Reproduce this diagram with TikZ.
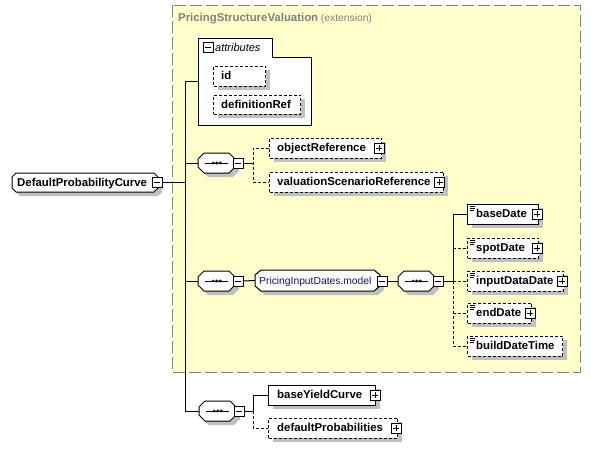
\documentclass[tikz,border=0pt]{standalone}
\usepackage{fontspec}
\setmainfont{Liberation Sans}
\usetikzlibrary{shadows}
\definecolor{bgyellow}{RGB}{255,255,204}
\definecolor{shgray}{RGB}{192,192,192}
\definecolor{titlegray}{RGB}{128,128,128}
\definecolor{modelblue}{RGB}{16,16,128}
\definecolor{framegray}{RGB}{128,128,128}

\tikzset{
  shad/.style={drop shadow={shadow xshift=4pt, shadow yshift=-4pt, fill=shgray, opacity=1}},
  ebox/.style={draw, fill=white, line width=1pt, minimum height=20pt, inner sep=0pt, anchor=west, shad},
  optb/.style={dash pattern=on 3pt off 2pt},
  lbl/.style={anchor=west, inner sep=0pt, text height=8pt, text depth=1pt, font=\fontsize{11.4}{13}\selectfont\bfseries},
  conn/.style={line width=1pt},
  optc/.style={line width=1pt, dash pattern=on 3pt off 2pt},
  shapebox/.style={inner sep=0pt},
  octo/.style={draw, fill=white, line width=1pt, shad},
  pmbox/.style={draw, fill=white, line width=0.9pt, minimum size=10pt, inner sep=0pt, outer sep=0pt},
  plusbox/.style={pmbox, path picture={\draw[line width=0.9pt]
      ([xshift=-3pt]path picture bounding box.center) -- ([xshift=3pt]path picture bounding box.center)
      ([yshift=-3pt]path picture bounding box.center) -- ([yshift=3pt]path picture bounding box.center);}},
  minusbox/.style={pmbox, path picture={\draw[line width=0.9pt]
      ([xshift=-3pt]path picture bounding box.center) -- ([xshift=3pt]path picture bounding box.center);}},
  docicon/.style={line width=0.7pt}
}

\newcommand\seqshape[3]{%
  \draw[octo] (#2+6,#3-10) -- (#2+31,#3-10) -- (#2+37,#3-4) -- (#2+37,#3+4) -- (#2+31,#3+10) -- (#2+6,#3+10) -- (#2,#3+4) -- (#2,#3-4) -- cycle;
  \node[shapebox, minimum width=37pt, minimum height=20pt, anchor=west] (#1) at (#2,#3) {};
  \draw[line width=1pt] (#2+7,#3) -- (#2+30,#3);
  \foreach \d in {-3.6,0,3.6} \fill ([xshift=\d pt]#1.center) circle (1.6pt);
  \node[minusbox] (#1M) at (#2+40,#3) {};
}
\newcommand\docmark[1]{%
  \draw[docicon] ([shift={(2.5,2.5)}]#1.north west) -- ++(5,0)
                 ([shift={(2.5,4.6)}]#1.north west) -- ++(5,0)
                 ([shift={(2.5,6.7)}]#1.north west) -- ++(4,0);
}

\begin{document}
\begin{tikzpicture}[x=1pt,y=-1pt]
\useasboundingbox (0,0) rectangle (591,448);
\fill[white] (0,0) rectangle (591,448);

% extension frame
\draw[fill=bgyellow, draw=framegray, line width=1pt, dash pattern=on 12pt off 4pt] (172,5) rectangle (580,372);
\node[anchor=west, inner sep=0pt, text=titlegray] (title) at (178,19)
  {{\fontsize{11.4}{13}\selectfont\bfseries PricingStructureValuation} {\fontsize{10.3}{12}\selectfont(extension)}};

% root element
\draw[octo] (16,173) -- (154,173) -- (158,177) -- (158,188) -- (154,192) -- (16,192) -- (12,188) -- (12,177) -- cycle;
\node[shapebox, minimum width=146pt, minimum height=19pt] (dpc) at (85,182.5) {};
\node[lbl] (dpcT) at (17,182.5) {DefaultProbabilityCurve};
\node[minusbox] (dpcM) at (157,182) {};

% attributes
\draw[fill=white, line width=1pt] (198,38) -- (272,38) -- (272,57) -- (311,57) -- (311,125) -- (198,125) -- cycle;
\node[shapebox, minimum width=113pt, minimum height=87pt] (attr) at (254.5,81.5) {};
\node[minusbox] (attrM) at (208,47.5) {};
\node[anchor=west, inner sep=0pt, font=\fontsize{11}{13}\selectfont\itshape] (attrT) at (215,47.5) {attributes};
\node[ebox, optb, minimum width=52pt] (id) at (213,76) {};
\node[lbl] (idT) at ([xshift=8pt]id.west) {id};
\node[ebox, optb, minimum width=87pt, minimum height=19pt] (dref) at (213,104.5) {};
\node[lbl] (drefT) at ([xshift=8pt]dref.west) {definitionRef};

% sequences
\seqshape{seqa}{198}{163}
\seqshape{seqb}{198}{281}
\seqshape{seqc}{199}{411}
\seqshape{seqd}{398}{281}

% first sequence children
\node[ebox, optb, minimum width=112pt] (obj) at (269,148) {};
\node[lbl] (objT) at ([xshift=8pt]obj.west) {objectReference};
\node[plusbox] (objP) at ([xshift=-3pt]obj.east) {};
\node[ebox, optb, minimum width=174pt] (vsr) at (269,182) {};
\node[lbl] (vsrT) at ([xshift=8pt]vsr.west) {valuationScenarioReference};
\node[plusbox] (vsrP) at ([xshift=-4.5pt]vsr.east) {};

% group
\draw[octo] (261,270) -- (374,270) -- (380,275) -- (380,286) -- (374,291) -- (261,291) -- (255,286) -- (255,275) -- cycle;
\node[shapebox, minimum width=125pt, minimum height=21pt] (grp) at (317.5,280.5) {};
\node[anchor=west, inner sep=0pt, text height=7.5pt, text depth=1pt, text=modelblue, font=\fontsize{10.3}{12}\selectfont] (grpT) at (259,281) {PricingInputDates.model};
\node[minusbox] (grpM) at (382,281) {};

% right column
\node[ebox, minimum width=71pt] (bd) at (467,214) {};
\node[lbl] (bdT) at ([xshift=9pt]bd.west) {baseDate};
\node[plusbox] (bdP) at ([xshift=-2pt]bd.east) {};
\docmark{bd}
\node[ebox, optb, minimum width=71pt] (sd) at (467,248) {};
\node[lbl] (sdT) at ([xshift=9pt]sd.west) {spotDate};
\node[plusbox] (sdP) at ([xshift=-2pt]sd.east) {};
\docmark{sd}
\node[ebox, optb, minimum width=96pt] (idd) at (467,281) {};
\node[lbl] (iddT) at ([xshift=9pt]idd.west) {inputDataDate};
\node[plusbox] (iddP) at ([xshift=-2pt]idd.east) {};
\docmark{idd}
\node[ebox, optb, minimum width=64pt] (ed) at (467,313) {};
\node[lbl] (edT) at ([xshift=9pt]ed.west) {endDate};
\node[plusbox] (edP) at ([xshift=-2pt]ed.east) {};
\docmark{ed}
\node[ebox, optb, minimum width=95pt] (bdt) at (467,346) {};
\node[lbl] (bdtT) at ([xshift=9pt]bdt.west) {buildDateTime};
\docmark{bdt}

% third sequence children
\node[ebox, minimum width=107pt] (byc) at (268,395) {};
\node[lbl] (bycT) at ([xshift=9pt]byc.west) {baseYieldCurve};
\node[plusbox] (bycP) at ([xshift=-1pt]byc.east) {};
\node[ebox, optb, minimum width=129pt] (dp) at (268,428) {};
\node[lbl] (dpT) at ([xshift=9pt]dp.west) {defaultProbabilities};
\node[plusbox] (dpP) at ([xshift=-2pt]dp.east) {};

% connectors
\coordinate (sp) at (185,0);
\coordinate (ba) at (253,0);
\coordinate (bb) at (453,0);
\coordinate (bc) at (253,0);
\draw[conn] (dpcM.east) -- (dpcM.east -| sp);
\draw[conn] (attr.west) -| (sp |- seqc.west) -- (seqc.west);
\draw[conn] (seqa.west -| sp) -- (seqa.west);
\draw[conn] (seqb.west -| sp) -- (seqb.west);

\draw[conn] (seqaM.east) -- (seqaM.east -| ba);
\draw[optc] (obj.west) -- (obj.west -| ba) -- (vsr.west -| ba) -- (vsr.west);

\draw[conn] (seqbM.east) -- (grp.west);
\draw[conn] (grpM.east) -- (seqd.west);
\draw[conn] (seqdM.east) -- (seqdM.east -| bb);
\draw[optc] (bb |- seqd.west) -- (bb |- bdt.west) -- (bdt.west);
\draw[optc] (bb |- sd.west) -- (sd.west);
\draw[optc] (bb |- idd.west) -- (idd.west);
\draw[optc] (bb |- ed.west) -- (ed.west);
\draw[conn] (bb |- seqd.west) -- (bb |- bd.west) -- (bd.west);

\draw[conn] (seqcM.east) -- (seqcM.east -| bc);
\draw[optc] (bc |- seqc.west) -- (bc |- dp.west) -- (dp.west);
\draw[conn] (bc |- seqc.west) -- (bc |- byc.west) -- (byc.west);
\end{tikzpicture}
\end{document}
